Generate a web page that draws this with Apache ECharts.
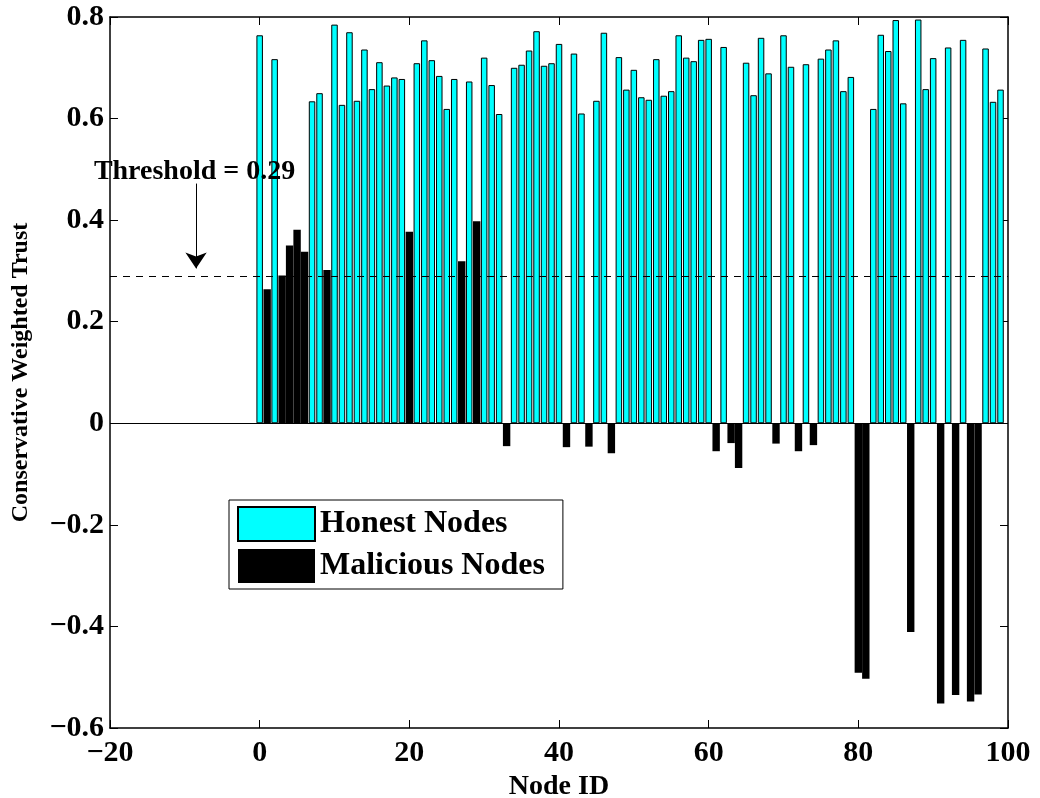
<!DOCTYPE html>
<html>
<head>
<meta charset="utf-8">
<title>Conservative Weighted Trust</title>
<script src="https://cdn.jsdelivr.net/npm/echarts@6/dist/echarts.min.js"></script>
<style>
  html, body { margin: 0; padding: 0; background: #fff; }
  #main { width: 1040px; height: 798px; }
</style>
</head>
<body>
<div id="main"></div>
<script>
  // honest nodes (cyan)
  var honestIds = [0, 2, 7, 8, 10, 11, 12, 13, 14, 15, 16, 17, 18, 19, 21, 22, 23, 24, 25, 26,
    28, 30, 31, 32, 34, 35, 36, 37, 38, 39, 40, 42, 43, 45, 46, 48, 49, 50, 51, 52,
    53, 54, 55, 56, 57, 58, 59, 60, 62, 65, 66, 67, 68, 70, 71, 73, 75, 76, 77, 78,
    79, 82, 83, 84, 85, 86, 88, 89, 90, 92, 94, 97, 98, 99];
  var honestTrust = [0.764, 0.717, 0.634, 0.650, 0.785, 0.627, 0.770, 0.635, 0.736, 0.658, 0.711, 0.665, 0.681, 0.678, 0.709, 0.754, 0.715, 0.684, 0.619, 0.678,
    0.673, 0.720, 0.666, 0.609, 0.700, 0.706, 0.734, 0.772, 0.704, 0.709, 0.747, 0.728, 0.610, 0.635, 0.769, 0.721, 0.657, 0.696, 0.642, 0.637,
    0.717, 0.645, 0.654, 0.764, 0.720, 0.713, 0.755, 0.757, 0.741, 0.710, 0.646, 0.759, 0.689, 0.764, 0.702, 0.707, 0.718, 0.736, 0.754, 0.654,
    0.682, 0.619, 0.765, 0.733, 0.794, 0.630, 0.795, 0.658, 0.719, 0.740, 0.755, 0.738, 0.633, 0.657];

  // malicious nodes (black)
  var maliciousIds = [1, 3, 4, 5, 6, 9, 20, 27, 29, 33, 41, 44, 47, 61, 63, 64, 69, 72, 74, 80, 81, 87, 91, 93, 95, 96];
  var maliciousTrust = [0.264, 0.291, 0.350, 0.381, 0.338, 0.302, 0.377, 0.319, 0.398, -0.045, -0.047, -0.046, -0.059,
    -0.055, -0.039, -0.088, -0.040, -0.055, -0.043, -0.491, -0.503, -0.411, -0.552, -0.535, -0.548, -0.534];

  var threshold = 0.29;
  var xTicks = { min: -20, max: 100, step: 20 };
  var yTicks = { min: -0.6, max: 0.8, step: 0.2 };

  var font = '"Liberation Serif", "Times New Roman", serif';

  function minus(s) { return String(s).replace('-', '\u2212'); }

  var honestData = honestIds.map(function (id, i) { return [id, honestTrust[i]]; });
  var maliciousData = maliciousIds.map(function (id, i) { return [id, maliciousTrust[i]]; });

  var myChart = echarts.init(document.getElementById('main'));

  var axisCommon = {
    axisLine: { show: true, onZero: false, lineStyle: { color: '#000', width: 1.5 } },
    axisTick: { show: true, inside: true, length: 8, lineStyle: { color: '#000', width: 1 } },
    splitLine: { show: false }
  };

  var option = {
    animation: false,
    backgroundColor: '#fff',
    grid: { left: 110, right: 32, top: 17, bottom: 70, outerBoundsMode: 'none' },
    legend: {
      orient: 'vertical',
      left: 229,
      top: 500,
      itemWidth: 77,
      itemHeight: 34,
      itemGap: 7,
      padding: [6, 18, 6, 8],
      borderColor: '#000',
      borderWidth: 1,
      backgroundColor: '#fff',
      icon: 'rect',
      textStyle: { fontFamily: font, fontWeight: 'bold', fontSize: 32, color: '#000' },
      data: ['Honest Nodes', 'Malicious Nodes']
    },
    xAxis: [
      Object.assign({
        type: 'value',
        position: 'bottom',
        min: xTicks.min, max: xTicks.max, interval: xTicks.step,
        name: 'Node ID',
        nameLocation: 'middle',
        nameGap: 44,
        nameTextStyle: { fontFamily: font, fontWeight: 'bold', fontSize: 28, color: '#000' },
        axisLabel: {
          margin: 10,
          fontFamily: font, fontWeight: 'bold', fontSize: 30, color: '#000',
          formatter: function (v) { return minus(v); }
        }
      }, axisCommon),
      Object.assign({
        type: 'value',
        position: 'top',
        min: xTicks.min, max: xTicks.max, interval: xTicks.step,
        axisLabel: { show: false }
      }, axisCommon)
    ],
    yAxis: [
      Object.assign({
        type: 'value',
        position: 'left',
        min: yTicks.min, max: yTicks.max, interval: yTicks.step,
        name: 'Conservative Weighted Trust',
        nameLocation: 'middle',
        nameGap: 77,
        nameTextStyle: { fontFamily: font, fontWeight: 'bold', fontSize: 24, color: '#000' },
        axisLabel: {
          margin: 6,
          fontFamily: font, fontWeight: 'bold', fontSize: 30, color: '#000',
          formatter: function (v) {
            if (Math.abs(v) < 1e-9) return '0';
            return minus(v.toFixed(1));
          }
        }
      }, axisCommon),
      Object.assign({
        type: 'value',
        position: 'right',
        min: yTicks.min, max: yTicks.max, interval: yTicks.step,
        axisLabel: { show: false }
      }, axisCommon)
    ],
    series: [
      {
        name: 'Honest Nodes',
        type: 'bar',
        xAxisIndex: 0,
        yAxisIndex: 0,
        barWidth: 6.5,
        itemStyle: { color: '#00ffff', borderColor: '#000', borderWidth: 1 },
        data: honestData,
        markLine: {
          silent: true,
          symbol: 'none',
          label: { show: false },
          data: [
            { yAxis: 0, lineStyle: { color: '#000', width: 1, type: 'solid' } },
            { yAxis: threshold, lineStyle: { color: '#000', width: 1, type: [7, 6] } },
            [
              { coord: [-8.5, 0.472], symbol: 'none', lineStyle: { color: '#000', width: 1, type: 'solid' } },
              { coord: [-8.5, 0.305], symbol: 'arrow', symbolSize: 16 }
            ]
          ]
        },
        markPoint: {
          silent: true,
          symbol: 'rect',
          symbolSize: 0,
          label: {
            show: true,
            position: 'inside',
            fontFamily: font, fontWeight: 'bold', fontSize: 28, color: '#000',
            formatter: 'Threshold = 0.29'
          },
          data: [{ coord: [-8.7, 0.495] }]
        }
      },
      {
        name: 'Malicious Nodes',
        type: 'bar',
        xAxisIndex: 1,
        yAxisIndex: 0,
        barWidth: 7.4,
        itemStyle: { color: '#000' },
        data: maliciousData
      }
    ]
  };

  option && myChart.setOption(option);
  window.onresize = myChart.resize;
</script>
</body>
</html>
